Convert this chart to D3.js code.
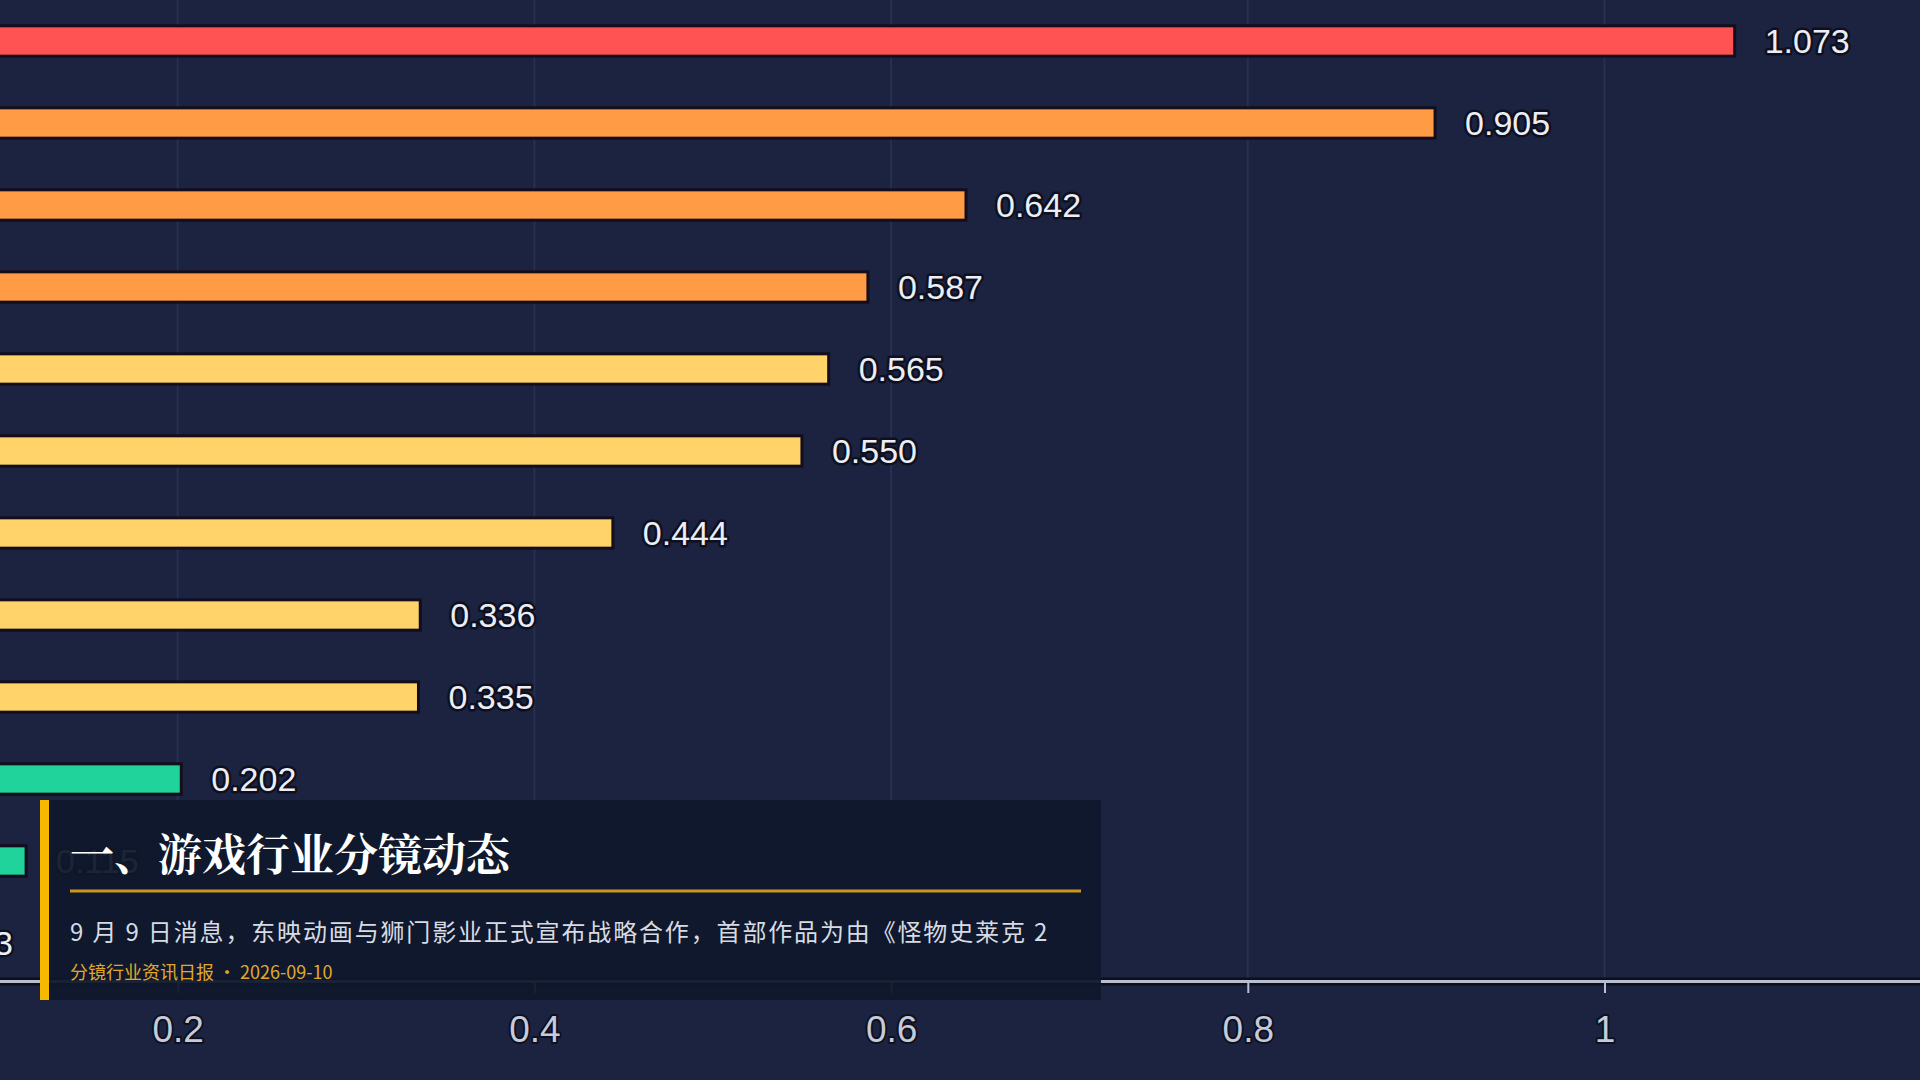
<!DOCTYPE html>
<html>
<head>
<meta charset="utf-8">
<script src="https://cdn.jsdelivr.net/npm/d3@7/dist/d3.min.js"></script>
<style>
  html, body { margin: 0; padding: 0; background: #1b2341; overflow: hidden; }
  svg { display: block; }
  .value-label, .tick-label {
    font-family: "Liberation Sans", Arial, sans-serif;
    paint-order: stroke;
    stroke-linejoin: round;
  }
</style>
</head>
<body>
<div id="chart"></div>
<script>
// Data (category names sit off the left edge of the crop, so they are not drawn)
const categories = ['项目A', '项目B', '项目C', '项目D', '项目E', '项目F',
                    '项目G', '项目H', '项目I', '项目J', '项目K', '项目L'];
const values = [1.073, 0.905, 0.642, 0.587, 0.565, 0.550,
                0.444, 0.336, 0.335, 0.202, 0.115, 0.043];
const tickValues = [0, 0.2, 0.4, 0.6, 0.8, 1];

// Caption card texts
const cardTitle = '一、游戏行业分镜动态';
const cardBody = '9 月 9 日消息，东映动画与狮门影业正式宣布战略合作，首部作品为由《怪物史莱克 2';
const cardSource = '分镜行业资讯日报 · 2026-09-10';

const width = 1920;
const height = 1080;
const axisY = 981;

const svg = d3.select('#chart')
    .append('svg')
    .attr('width', width)
    .attr('height', height);

svg.append('rect')
    .attr('width', width)
    .attr('height', height)
    .attr('fill', '#1b2341');

// Scales: the chart is cropped, so zero lies left of the frame
const x = d3.scaleLinear()
    .domain([0, 1.2])
    .range([-179, -179 + 1.2 * 1783.5]);

const y = d3.scaleBand()
    .domain(categories)
    .range([0, 984])
    .paddingInner(0.63)
    .paddingOuter(0.315);

const color = d3.scaleThreshold()
    .domain([0.3, 0.58, 1.0])
    .range(['#1fd39b', '#ffd26a', '#ff9a45', '#ff5252']);

// Grid lines
svg.append('g')
    .attr('class', 'grid')
    .selectAll('line')
    .data(tickValues)
    .join('line')
    .attr('x1', d => x(d))
    .attr('x2', d => x(d))
    .attr('y1', 0)
    .attr('y2', axisY)
    .attr('stroke', 'rgba(150,165,210,0.10)')
    .attr('stroke-width', 2);

// Bars
const bars = svg.append('g').attr('class', 'bars');

bars.selectAll('rect')
    .data(values)
    .join('rect')
    .attr('x', x(0))
    .attr('y', (d, i) => y(categories[i]))
    .attr('width', d => x(d) - x(0))
    .attr('height', y.bandwidth())
    .attr('fill', d => color(d))
    .attr('stroke', '#140d1c')
    .attr('stroke-width', 3);

// Value labels
bars.selectAll('text')
    .data(values)
    .join('text')
    .attr('class', 'value-label')
    .attr('x', d => x(d) + 30)
    .attr('y', (d, i) => y(categories[i]) + y.bandwidth() / 2)
    .attr('dy', '0.36em')
    .attr('font-size', 34)
    .attr('fill', '#eceef5')
    .attr('stroke', '#0e1020')
    .attr('stroke-width', 5)
    .text(d => d3.format('.3f')(d));

// Value axis
const xAxis = svg.append('g')
    .attr('transform', `translate(0,${axisY})`)
    .call(d3.axisBottom(x)
        .tickValues(tickValues)
        .tickSize(12)
        .tickPadding(23)
        .tickFormat(d3.format('~g')));

xAxis.select('.domain')
    .attr('stroke', '#0c0f1e')
    .attr('stroke-width', 8)
    .clone()
    .attr('stroke', '#b9bfce')
    .attr('stroke-width', 3);

xAxis.selectAll('.tick line')
    .attr('stroke', '#b9bfce')
    .attr('stroke-width', 2);

xAxis.selectAll('.tick text')
    .attr('class', 'tick-label')
    .attr('font-size', 37)
    .attr('fill', '#c6cbd9')
    .attr('stroke', '#0e1020')
    .attr('stroke-width', 4);

// Caption card
const card = svg.append('g').attr('class', 'card');

card.append('rect')
    .attr('x', 40)
    .attr('y', 800)
    .attr('width', 1061)
    .attr('height', 200)
    .attr('fill', '#0f172b')
    .attr('opacity', 0.94);

card.append('rect')
    .attr('x', 40)
    .attr('y', 800)
    .attr('width', 9)
    .attr('height', 200)
    .attr('fill', '#f6b800');

card.append('text')
    .attr('x', 70)
    .attr('y', 871)
    .attr('font-family', '"Noto Serif CJK SC", "Source Han Serif SC", "Noto Sans CJK SC", serif')
    .attr('font-weight', 'bold')
    .attr('font-size', 44)
    .attr('fill', '#ffffff')
    .text(cardTitle);

card.append('line')
    .attr('x1', 70)
    .attr('x2', 1081)
    .attr('y1', 891)
    .attr('y2', 891)
    .attr('stroke', '#c9961f')
    .attr('stroke-width', 3);

card.append('text')
    .attr('x', 70)
    .attr('y', 941)
    .attr('font-family', '"Noto Sans CJK SC", sans-serif')
    .attr('font-size', 24)
    .attr('letter-spacing', 1.85)
    .attr('fill', '#d8dbe3')
    .text(cardBody);

card.append('text')
    .attr('x', 70)
    .attr('y', 979)
    .attr('font-family', '"Noto Sans CJK SC", sans-serif')
    .attr('font-size', 18)
    .attr('fill', '#e3a82a')
    .text(cardSource);
</script>
</body>
</html>
